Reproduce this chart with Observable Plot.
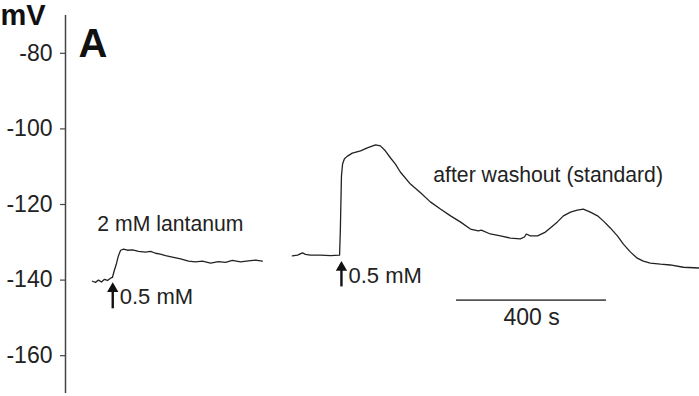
<!DOCTYPE html>
<html>
<head>
<meta charset="utf-8">
<script src="https://cdn.jsdelivr.net/npm/d3@7"></script>
<script src="https://cdn.jsdelivr.net/npm/@observablehq/plot@0.6"></script>
<style>
  html, body { margin: 0; padding: 0; background: #fff; }
  #chart svg { display: block; }
</style>
</head>
<body>
<div id="chart"></div>
<script>
// Trace 1: 2 mM lantanum (time in s, membrane potential in mV)
const t1 = [72, 80, 88, 96, 104, 112, 120, 125, 131, 136, 141, 147, 155, 165, 179, 195, 213, 227, 240, 253, 267, 285, 307, 328, 347, 365, 387, 408, 427, 445, 467, 488, 507, 525];
const v1 = [-140.3, -140.6, -140.0, -140.5, -139.8, -140.1, -139.5, -139.3, -137.2, -135.6, -133.6, -132.1, -131.8, -132.1, -132.0, -132.4, -132.6, -132.4, -132.9, -133.1, -133.5, -133.9, -134.4, -135.0, -135.2, -135.0, -135.5, -135.1, -135.3, -134.8, -135.2, -134.9, -134.7, -135.0];

// Trace 2: after washout (standard)
const t2 = [605, 619, 632, 640, 653, 680, 707, 731, 733, 736, 739, 744, 752, 765, 787, 805, 827, 840, 853, 867, 880, 893, 920, 947, 973, 1000, 1027, 1053, 1080, 1101, 1109, 1133, 1160, 1187, 1213, 1224, 1229, 1240, 1259, 1280, 1293, 1312, 1328, 1347, 1365, 1381, 1400, 1419, 1435, 1453, 1472, 1488, 1507, 1525, 1541, 1560, 1587, 1613, 1648, 1691];
const v2 = [-133.6, -133.4, -132.8, -133.2, -133.4, -133.4, -133.5, -133.4, -127.0, -112.5, -109.3, -107.9, -107.2, -106.4, -105.8, -105.0, -104.2, -104.5, -105.8, -107.7, -109.3, -111.4, -114.6, -116.9, -119.3, -121.2, -123.0, -124.6, -126.5, -127.0, -126.8, -127.8, -128.3, -128.9, -129.1, -128.6, -127.8, -128.3, -128.3, -127.3, -126.2, -124.6, -123.0, -122.0, -121.5, -121.2, -122.0, -123.0, -124.4, -126.2, -128.3, -130.5, -132.6, -134.2, -135.0, -135.5, -135.8, -136.0, -136.6, -136.8];

// Y axis ticks (mV)
const yTicks = [-80, -100, -120, -140, -160];

// Stimulus arrows (0.5 mM): time, arrow bottom/top in mV
const stimT = [126, 736];
const stimBottom = [-147.6, -141.8];
const stimTop = [-142.0, -136.4];
const stimLabelY = [-144.4, -139.0];
const stimLabel = ["0.5 mM", "0.5 mM"];

// Labels
const traceLabels = ["2 mM lantanum", "after washout (standard)"];
const traceLabelT = [85, 981];
const traceLabelV = [-125.2, -112.2];

// Scale bar: 400 s
const scaleStart = 1043;
const scaleLength = 400;
const scaleV = -145.3;
const scaleLabel = "400 s";
const scaleLabelV = -149.9;

const trace1 = t1.map((t, i) => ({t, v: v1[i], s: 1}));
const trace2 = t2.map((t, i) => ({t, v: v2[i], s: 2}));
const traces = trace1.concat(trace2);
const stims = stimT.map((t, i) => ({t, y1: stimBottom[i], y2: stimTop[i], ly: stimLabelY[i], label: stimLabel[i]}));
const tl = traceLabels.map((label, i) => ({label, t: traceLabelT[i], v: traceLabelV[i]}));

const font = "Liberation Sans, Arial, Helvetica, sans-serif";

const chart = Plot.plot({
  width: 699,
  height: 396,
  marginLeft: 65,
  marginRight: 0,
  marginTop: 15,
  marginBottom: 3,
  style: {fontFamily: font, background: "#fff", color: "#222"},
  x: {domain: [0, 1691], axis: null},
  y: {domain: [-170, -70]},
  marks: [
    Plot.ruleX([0], {y1: -170, y2: -70, stroke: "#444", strokeWidth: 1.5}),
    Plot.axisY({ticks: yTicks, tickSize: 5, tickPadding: 8, tickFormat: d => "-" + Math.abs(d), fontSize: 23, label: null, stroke: "#444", strokeWidth: 1.2, fill: "#222"}),
    Plot.line(traces, {x: "t", y: "v", z: "s", stroke: "#222", strokeWidth: 1.3}),
    Plot.ruleX(stims, {x: "t", y1: "y1", y2: "y2", stroke: "#111", strokeWidth: 2.4}),
    Plot.dot(stims, {x: "t", y: "y2", symbol: "triangle", r: 4.2, fill: "#111", stroke: "none", dy: 1}),
    Plot.text(stims, {x: "t", y: "ly", text: "label", textAnchor: "start", dx: 7, fontSize: 22, fill: "#222"}),
    Plot.text(tl, {x: "t", y: "v", text: "label", textAnchor: "start", fontSize: 21.2, fill: "#222"}),
    Plot.ruleY([scaleV], {x1: scaleStart, x2: scaleStart + scaleLength, stroke: "#555", strokeWidth: 1.6}),
    Plot.text([scaleLabel], {x: scaleStart + scaleLength / 2, y: scaleLabelV, text: d => d, fontSize: 23, fill: "#222"}),
    Plot.text(["mV"], {frameAnchor: "top-left", dx: -65, dy: -11, text: d => d, textAnchor: "start", lineAnchor: "top", fontSize: 29, fontWeight: "bold", fill: "#111"}),
    Plot.text(["A"], {frameAnchor: "top-left", dx: 13, dy: 13, text: d => d, textAnchor: "start", lineAnchor: "top", fontSize: 40, fontWeight: "bold", fill: "#111"})
  ]
});
document.getElementById("chart").append(chart);
</script>
</body>
</html>
